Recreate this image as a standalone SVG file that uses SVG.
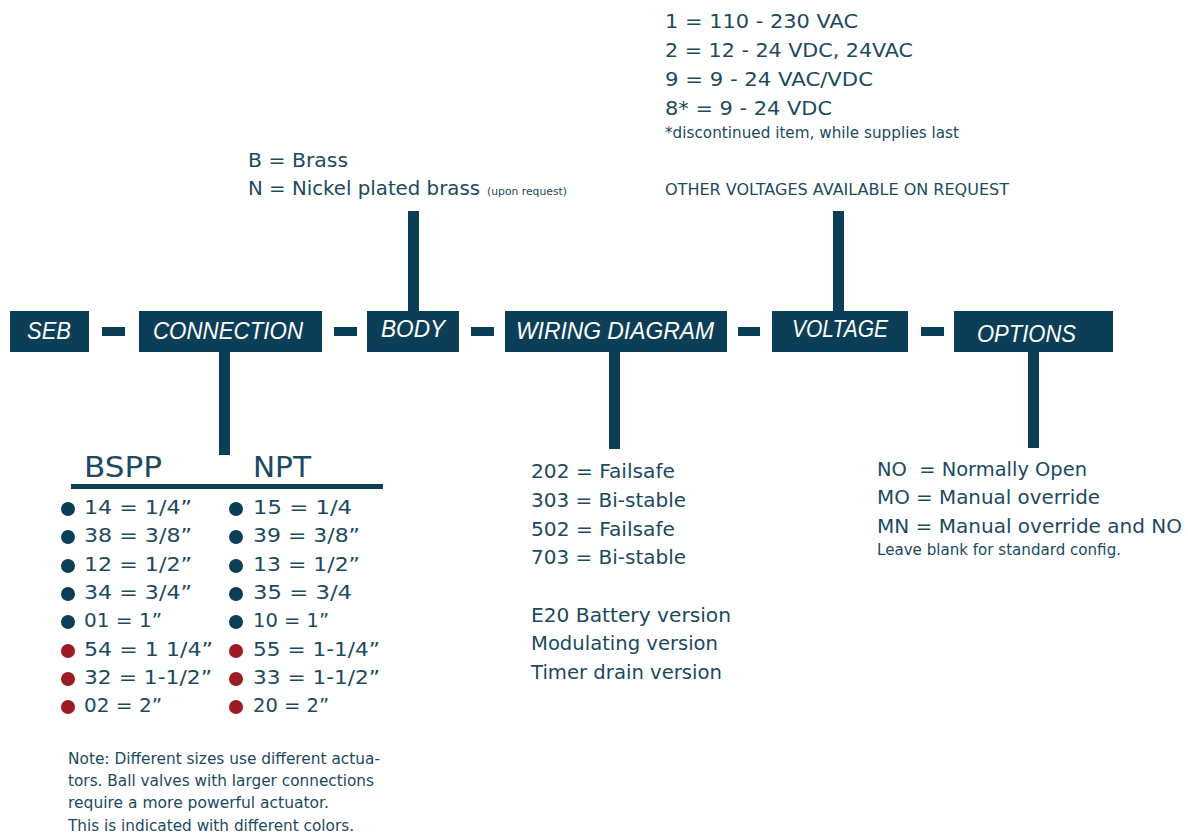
<svg xmlns="http://www.w3.org/2000/svg" width="1188" height="835" viewBox="0 0 1188 835">
<style>
.box{fill:#0c3f57}
.lbl{font-family:"Liberation Sans",Arial,sans-serif;font-style:italic;font-size:24px;fill:#ffffff}
.t{font-family:"DejaVu Sans","Noto Sans",sans-serif;font-size:20px;fill:#1c4a60}
.s{font-family:"DejaVu Sans","Noto Sans",sans-serif;font-size:15px;fill:#1c4a60}
.h{font-family:"DejaVu Sans","Noto Sans",sans-serif;font-size:29px;fill:#1c4a60}
.bd{fill:#0c3f57}
.br{fill:#9b1c22}
</style>
<rect width="1188" height="835" fill="#ffffff"/>
<g id="connectors">
<rect class="box" x="102" y="327" width="23" height="9"/>
<rect class="box" x="334" y="327" width="23" height="9"/>
<rect class="box" x="471" y="327" width="23" height="9"/>
<rect class="box" x="738" y="327" width="22" height="9"/>
<rect class="box" x="921" y="327" width="23" height="9"/>
<rect class="box" x="219" y="351" width="11" height="104"/>
<rect class="box" x="408" y="211" width="11" height="101"/>
<rect class="box" x="609" y="351" width="11" height="98"/>
<rect class="box" x="833" y="211" width="11" height="101"/>
<rect class="box" x="1028" y="351" width="11" height="97"/>
</g>
<g id="seb">
<rect class="box" x="10" y="311" width="79" height="41"/>
<text class="lbl" x="27" y="339" textLength="44" lengthAdjust="spacingAndGlyphs">SEB</text>
</g>
<g id="connection">
<rect class="box" x="139" y="311" width="183" height="41"/>
<text class="lbl" x="153" y="339" textLength="150" lengthAdjust="spacingAndGlyphs">CONNECTION</text>
</g>
<g id="body">
<rect class="box" x="367" y="311" width="92" height="41"/>
<text class="lbl" x="381" y="337" textLength="64" lengthAdjust="spacingAndGlyphs">BODY</text>
</g>
<g id="wiring">
<rect class="box" x="505" y="311" width="222" height="41"/>
<text class="lbl" x="516" y="339" textLength="198" lengthAdjust="spacingAndGlyphs">WIRING DIAGRAM</text>
</g>
<g id="voltage">
<rect class="box" x="772" y="311" width="136" height="41"/>
<text class="lbl" x="792" y="337" textLength="96" lengthAdjust="spacingAndGlyphs">VOLTAGE</text>
</g>
<g id="options">
<rect class="box" x="954" y="311" width="159" height="41"/>
<text class="lbl" x="977" y="342" textLength="99" lengthAdjust="spacingAndGlyphs">OPTIONS</text>
</g>
<g id="body-options">
<text class="t" x="248" y="167" textLength="100" lengthAdjust="spacingAndGlyphs">B = Brass</text>
<text class="t" x="248" y="195" textLength="232" lengthAdjust="spacingAndGlyphs">N = Nickel plated brass</text>
<text class="s" x="487" y="195" style="font-size:10px" textLength="80" lengthAdjust="spacingAndGlyphs">(upon request)</text>
</g>
<g id="voltage-options">
<text class="t" x="665" y="28" textLength="193" lengthAdjust="spacingAndGlyphs">1 = 110 - 230 VAC</text>
<text class="t" x="665" y="57" textLength="248" lengthAdjust="spacingAndGlyphs">2 = 12 - 24 VDC, 24VAC</text>
<text class="t" x="665" y="86" textLength="208" lengthAdjust="spacingAndGlyphs">9 = 9 - 24 VAC/VDC</text>
<text class="t" x="665" y="115" textLength="167" lengthAdjust="spacingAndGlyphs">8* = 9 - 24 VDC</text>
<text class="s" x="665" y="138" textLength="294" lengthAdjust="spacingAndGlyphs">*discontinued item, while supplies last</text>
<text class="s" x="665" y="195" style="font-size:16px" textLength="344" lengthAdjust="spacingAndGlyphs">OTHER VOLTAGES AVAILABLE ON REQUEST</text>
</g>
<g id="connection-options">
<text class="h" x="84" y="477" textLength="78" lengthAdjust="spacingAndGlyphs">BSPP</text>
<text class="h" x="253" y="477" textLength="58" lengthAdjust="spacingAndGlyphs">NPT</text>
<rect class="box" x="71" y="484" width="312" height="5"/>
<circle class="bd" cx="68" cy="509" r="7"/>
<circle class="bd" cx="68" cy="537" r="7"/>
<circle class="bd" cx="68" cy="566" r="7"/>
<circle class="bd" cx="68" cy="594" r="7"/>
<circle class="bd" cx="68" cy="622" r="7"/>
<circle class="br" cx="68" cy="651" r="7"/>
<circle class="br" cx="68" cy="679" r="7"/>
<circle class="br" cx="68" cy="707" r="7"/>
<circle class="bd" cx="236" cy="509" r="7"/>
<circle class="bd" cx="236" cy="537" r="7"/>
<circle class="bd" cx="236" cy="566" r="7"/>
<circle class="bd" cx="236" cy="594" r="7"/>
<circle class="bd" cx="236" cy="622" r="7"/>
<circle class="br" cx="236" cy="651" r="7"/>
<circle class="br" cx="236" cy="679" r="7"/>
<circle class="br" cx="236" cy="707" r="7"/>
<text class="t" x="84" y="514" textLength="108" lengthAdjust="spacingAndGlyphs">14 = 1/4”</text>
<text class="t" x="84" y="542" textLength="108" lengthAdjust="spacingAndGlyphs">38 = 3/8”</text>
<text class="t" x="84" y="571" textLength="108" lengthAdjust="spacingAndGlyphs">12 = 1/2”</text>
<text class="t" x="84" y="599" textLength="108" lengthAdjust="spacingAndGlyphs">34 = 3/4”</text>
<text class="t" x="84" y="627" textLength="78" lengthAdjust="spacingAndGlyphs">01 = 1”</text>
<text class="t" x="84" y="656" textLength="129" lengthAdjust="spacingAndGlyphs">54 = 1 1/4”</text>
<text class="t" x="84" y="684" textLength="128" lengthAdjust="spacingAndGlyphs">32 = 1-1/2”</text>
<text class="t" x="84" y="712" textLength="78" lengthAdjust="spacingAndGlyphs">02 = 2”</text>
<text class="t" x="253" y="514" textLength="99" lengthAdjust="spacingAndGlyphs">15 = 1/4</text>
<text class="t" x="253" y="542" textLength="107" lengthAdjust="spacingAndGlyphs">39 = 3/8”</text>
<text class="t" x="253" y="571" textLength="107" lengthAdjust="spacingAndGlyphs">13 = 1/2”</text>
<text class="t" x="253" y="599" textLength="99" lengthAdjust="spacingAndGlyphs">35 = 3/4</text>
<text class="t" x="253" y="627" textLength="76" lengthAdjust="spacingAndGlyphs">10 = 1”</text>
<text class="t" x="253" y="656" textLength="127" lengthAdjust="spacingAndGlyphs">55 = 1-1/4”</text>
<text class="t" x="253" y="684" textLength="127" lengthAdjust="spacingAndGlyphs">33 = 1-1/2”</text>
<text class="t" x="253" y="712" textLength="76" lengthAdjust="spacingAndGlyphs">20 = 2”</text>
<text class="s" x="68" y="764" textLength="312" lengthAdjust="spacingAndGlyphs">Note: Different sizes use different actua-</text>
<text class="s" x="68" y="786" textLength="306" lengthAdjust="spacingAndGlyphs">tors. Ball valves with larger connections</text>
<text class="s" x="68" y="808" textLength="261" lengthAdjust="spacingAndGlyphs">require a more powerful actuator.</text>
<text class="s" x="68" y="831" textLength="286" lengthAdjust="spacingAndGlyphs">This is indicated with different colors.</text>
</g>
<g id="wiring-options">
<text class="t" x="531" y="478" textLength="144" lengthAdjust="spacingAndGlyphs">202 = Failsafe</text>
<text class="t" x="531" y="507" textLength="155" lengthAdjust="spacingAndGlyphs">303 = Bi-stable</text>
<text class="t" x="531" y="536" textLength="144" lengthAdjust="spacingAndGlyphs">502 = Failsafe</text>
<text class="t" x="531" y="564" textLength="155" lengthAdjust="spacingAndGlyphs">703 = Bi-stable</text>
<text class="t" x="531" y="622" textLength="200" lengthAdjust="spacingAndGlyphs">E20 Battery version</text>
<text class="t" x="531" y="650" textLength="187" lengthAdjust="spacingAndGlyphs">Modulating version</text>
<text class="t" x="531" y="679" textLength="191" lengthAdjust="spacingAndGlyphs">Timer drain version</text>
</g>
<g id="options-list">
<text class="t" x="877" y="476" textLength="210" lengthAdjust="spacingAndGlyphs" xml:space="preserve">NO  = Normally Open</text>
<text class="t" x="877" y="504" textLength="223" lengthAdjust="spacingAndGlyphs">MO = Manual override</text>
<text class="t" x="877" y="533" textLength="305" lengthAdjust="spacingAndGlyphs">MN = Manual override and NO</text>
<text class="s" x="877" y="555" textLength="244" lengthAdjust="spacingAndGlyphs">Leave blank for standard config.</text>
</g>
</svg>
